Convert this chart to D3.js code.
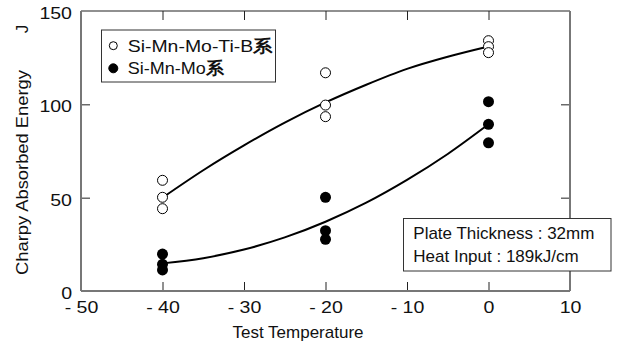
<!DOCTYPE html>
<html>
<head>
<meta charset="utf-8">
<script src="https://cdn.jsdelivr.net/npm/d3@7"></script>
<style>
  body { margin: 0; background: #fff; }
  svg text { font-family: "Liberation Sans", Arial, sans-serif; fill: #111; }
</style>
</head>
<body>
<svg width="623" height="345"></svg>
<script>
// values
var xTicks = [-50, -40, -30, -20, -10, 0, 10];
var yTicks = [0, 50, 100, 150];

var openTemp = [-40, -40, -40, -20, -20, -20, 0, 0, 0];
var openEnergy = [59.3, 50.2, 44.1, 116.9, 99.6, 93.4, 134.1, 130.9, 127.7];
var filledTemp = [-40, -40, -40, -20, -20, -20, 0, 0, 0];
var filledEnergy = [19.8, 14.3, 11.3, 50.2, 32.3, 27.7, 101.4, 89.3, 79.4];

// trend curves as drawn in the figure, read every 5 degrees
var curveTemp = [-40, -35, -30, -25, -20, -15, -10, -5, 0];
var openCurve = [50, 64.7, 78, 90.2, 101, 110.5, 119, 125.5, 131];
var filledCurve = [14.8, 17.6, 22.2, 28.7, 37.1, 47.3, 59.5, 73.4, 89.3];

var legendLabels = ['Si-Mn-Mo-Ti-B', 'Si-Mn-Mo'];
var infoLines = ['Plate Thickness : 32mm', 'Heat Input : 189kJ/cm'];

var svg = d3.select('svg');
// note: "top" is taken by window.top, so plot edges get their own names
var plotLeft = 81, plotTop = 11, plotRight = 570, plotBottom = 291;

var x = d3.scaleLinear().domain([-50, 10]).range([plotLeft, plotRight]);
var y = d3.scaleLinear().domain([0, 150]).range([plotBottom, plotTop]);

function fmt(d){
  return d < 0 ? '- ' + Math.abs(d) : String(d);
}

// stretch digits a bit, the original font is wider than Arial
function widen(sel, k){
  sel.each(function(){
    var w = this.getComputedTextLength();
    d3.select(this).attr('textLength', w*k).attr('lengthAdjust', 'spacingAndGlyphs');
  });
}

var inner = xTicks.slice(1, -1);
var innerY = yTicks.slice(1, -1);

// bottom axis
var gx = svg.append('g').attr('transform', 'translate(0,' + plotBottom + ')')
  .call(d3.axisBottom(x).tickValues(xTicks).tickFormat(fmt).tickSizeInner(-9).tickSizeOuter(0).tickPadding(10));
gx.select('.domain').remove();
gx.selectAll('.tick line').filter(function(d){ return d === -50 || d === 10; }).remove();
gx.selectAll('text').style('font-size', '17px').style('fill', '#111').call(widen, 1.15);

// left axis
var gy = svg.append('g').attr('transform', 'translate(' + plotLeft + ',0)')
  .call(d3.axisLeft(y).tickValues(yTicks).tickFormat(fmt).tickSizeInner(-9).tickSizeOuter(0).tickPadding(9));
gy.select('.domain').remove();
gy.selectAll('.tick line').filter(function(d){ return d === 0 || d === 150; }).remove();
gy.selectAll('text').style('font-size', '17px').style('fill', '#111').attr('dy', '0.45em').call(widen, 1.15);

// top and right ticks, no labels
var gt = svg.append('g').attr('transform', 'translate(0,' + plotTop + ')')
  .call(d3.axisTop(x).tickValues(inner).tickFormat('').tickSizeInner(-9).tickSizeOuter(0));
gt.select('.domain').remove();
var gr = svg.append('g').attr('transform', 'translate(' + plotRight + ',0)')
  .call(d3.axisRight(y).tickValues(innerY).tickFormat('').tickSizeInner(-9).tickSizeOuter(0));
gr.select('.domain').remove();
svg.selectAll('.tick line').attr('stroke', '#222');

// frame
svg.append('line').attr('x1', plotLeft).attr('x2', plotRight).attr('y1', plotTop).attr('y2', plotTop)
  .attr('stroke', '#222').attr('stroke-width', 1.2);
svg.append('line').attr('x1', plotLeft).attr('x2', plotLeft).attr('y1', plotTop).attr('y2', plotBottom)
  .attr('stroke', '#777').attr('stroke-width', 2);
svg.append('line').attr('x1', plotRight).attr('x2', plotRight).attr('y1', plotTop).attr('y2', plotBottom)
  .attr('stroke', '#777').attr('stroke-width', 2);
svg.append('line').attr('x1', plotLeft).attr('x2', plotRight).attr('y1', plotBottom).attr('y2', plotBottom)
  .attr('stroke', '#777').attr('stroke-width', 2);

// trend curves
var line = d3.line()
  .x(function(d){ return x(d[0]); })
  .y(function(d){ return y(d[1]); })
  .curve(d3.curveMonotoneX);
[openCurve, filledCurve].forEach(function(vals){
  svg.append('path')
    .datum(curveTemp.map(function(t, i){ return [t, vals[i]]; }))
    .attr('d', line)
    .attr('fill', 'none')
    .attr('stroke', '#000')
    .attr('stroke-width', 2);
});

// points
svg.append('g').selectAll('circle')
  .data(openTemp.map(function(t, i){ return [t, openEnergy[i]]; }))
  .enter().append('circle')
  .attr('cx', function(d){ return x(d[0]); })
  .attr('cy', function(d){ return y(d[1]); })
  .attr('r', 5)
  .attr('fill', '#fff')
  .attr('stroke', '#000')
  .attr('stroke-width', 1);

svg.append('g').selectAll('circle')
  .data(filledTemp.map(function(t, i){ return [t, filledEnergy[i]]; }))
  .enter().append('circle')
  .attr('cx', function(d){ return x(d[0]); })
  .attr('cy', function(d){ return y(d[1]); })
  .attr('r', 5.5)
  .attr('fill', '#000');

// legend
svg.append('rect').attr('x', 101.5).attr('y', 30).attr('width', 174).attr('height', 52)
  .attr('fill', '#fff').attr('stroke', '#333').attr('stroke-width', 1);
var legendWidths = [145, 96];
legendLabels.forEach(function(lab, i){
  var cy = 45.7 + i*22.6;
  svg.append('circle').attr('cx', 113.3).attr('cy', cy)
    .attr('r', i === 0 ? 4 : 4.5)
    .attr('fill', i === 0 ? '#fff' : '#000')
    .attr('stroke', '#000').attr('stroke-width', 1);
  var t = svg.append('text').attr('x', 127.7).attr('y', cy + 6)
    .style('font-size', '17px')
    .attr('textLength', legendWidths[i]).attr('lengthAdjust', 'spacingAndGlyphs');
  t.append('tspan').text(lab);
  t.append('tspan').style('font-weight', 'bold').text('系');
});

// info box
svg.append('rect').attr('x', 403.5).attr('y', 218.5).attr('width', 207.5).attr('height', 52.5)
  .attr('fill', '#fff').attr('stroke', '#333').attr('stroke-width', 1);
infoLines.forEach(function(s, i){
  svg.append('text').attr('x', 413.3).attr('y', 239 + i*22.7)
    .style('font-size', '17px').text(s);
});

// axis titles
svg.append('text').attr('x', 298).attr('y', 338).attr('text-anchor', 'middle')
  .style('font-size', '17px').text('Test Temperature');
svg.append('text').attr('transform', 'translate(28,172.5) rotate(-90)')
  .attr('text-anchor', 'middle').style('font-size', '17px')
  .attr('textLength', 205).attr('lengthAdjust', 'spacingAndGlyphs')
  .text('Charpy Absorbed Energy');
svg.append('text').attr('transform', 'translate(28,29) rotate(-90)')
  .attr('text-anchor', 'middle').style('font-size', '17px').text('J');
</script>
</body>
</html>
